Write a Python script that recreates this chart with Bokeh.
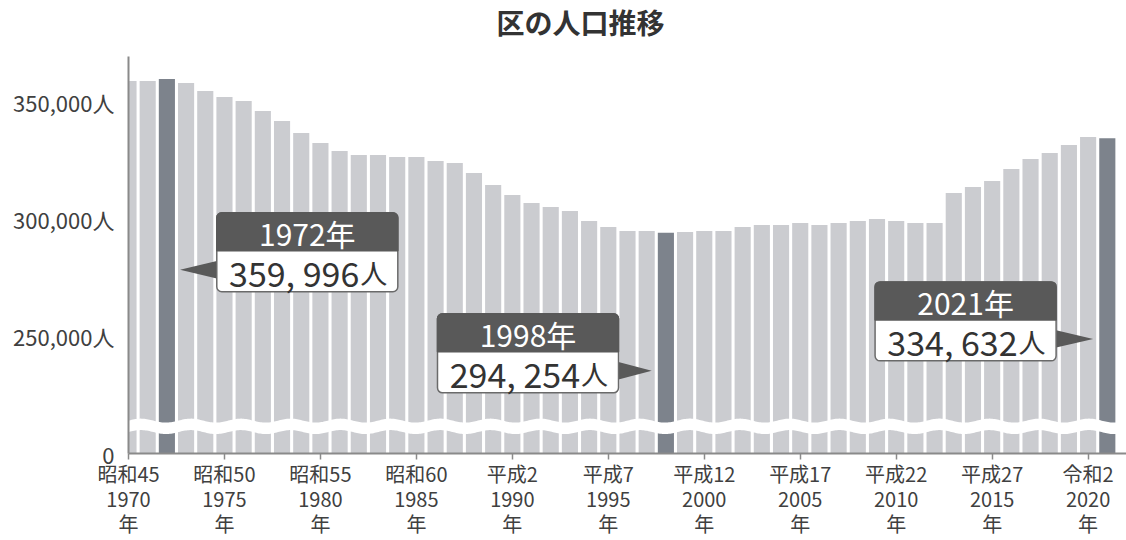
import numpy as np
from bokeh.plotting import figure
from bokeh.models import Range1d, FixedTicker, BoxAnnotation, Label
from bokeh.embed import file_html
from bokeh.resources import INLINE

# ---------------- data ----------------
years = list(range(1970, 2022))
population = [359150, 359150, 359996, 358290, 354870, 352300, 350600, 346330, 342060, 336940,
              332670, 329250, 327540, 327540, 326690, 326690, 324980, 324130, 319860, 314730,
              310460, 307050, 305340, 303630, 299360, 296800, 295090, 295090, 294254, 294600,
              295090, 295090, 296800, 297650, 297650, 298500, 297650, 298500, 299360, 300210,
              299360, 298500, 298500, 311320, 313880, 316440, 321560, 325830, 328400, 331810,
              335230, 334632]
highlight_years = [1972, 1998, 2021]

tick_years = [1970, 1975, 1980, 1985, 1990, 1995, 2000, 2005, 2010, 2015, 2020]
era_labels = ["昭和45", "昭和50", "昭和55", "昭和60", "平成2", "平成7",
              "平成12", "平成17", "平成22", "平成27", "令和2"]

y_ticks = [200000, 250000, 300000, 350000]
y_tick_labels = ["0", "250,000人", "300,000人", "350,000人"]

title_text = "区の人口推移"

# ---------------- style ----------------
FONT = "Noto Sans CJK JP"
LIGHT = "#cbccd0"
DARK = "#7d838c"
AXIS = "#8a8a8a"
TXT = "#404040"
HEAD = "#595959"

Y0, Y1 = 200000, 393500
X0, X1 = 1970, 2022.0
YPX = 427.0          # data units per pixel (vertical)
XPX = 1 / 19.19      # years per pixel (horizontal)

p = figure(width=1126, height=540, output_backend="svg", toolbar_location=None,
           x_range=Range1d(X0, X1), y_range=Range1d(Y0, Y1),
           min_border_left=128, min_border_right=0, min_border_top=0, min_border_bottom=86)
p.outline_line_color = None
p.xgrid.visible = False
p.ygrid.visible = False
p.background_fill_color = "white"
p.border_fill_color = "white"

colors = [DARK if y in highlight_years else LIGHT for y in years]
p.vbar(x=years, top=population, bottom=Y0, width=0.84, fill_color=colors, line_color=None)

# axis-break wave band
BREAK_C, BREAK_H, BREAK_A, BREAK_P = 211600, 2450, 850, 2.6
wx = np.linspace(X0 - 0.5, X1 + 0.5, 800)
wave = BREAK_A * np.sin(2 * np.pi * (wx - X0) / BREAK_P)
p.patch(np.concatenate([wx, wx[::-1]]),
        np.concatenate([BREAK_C + BREAK_H + wave, (BREAK_C - BREAK_H + wave)[::-1]]),
        fill_color="white", line_color=None)

# axes
xa = p.xaxis[0]
xa.ticker = FixedTicker(ticks=tick_years)
xa.major_label_overrides = {y: f"{e}\n{y}\n年" for y, e in zip(tick_years, era_labels)}
xa.axis_line_color = AXIS
xa.axis_line_width = 2
xa.major_tick_line_color = AXIS
xa.major_tick_line_width = 1.5
xa.major_tick_out = 6
xa.major_tick_in = 0
xa.minor_tick_line_color = None
xa.major_label_text_font = FONT
xa.major_label_text_font_size = "20px"
xa.major_label_text_color = TXT
xa.major_label_text_line_height = 0.87
xa.major_label_standoff = -1

ya = p.yaxis[0]
ya.ticker = FixedTicker(ticks=y_ticks)
ya.major_label_overrides = {t: l for t, l in zip(y_ticks, y_tick_labels)}
ya.bounds = (Y0, 369500)
ya.axis_line_color = AXIS
ya.axis_line_width = 2
ya.major_tick_line_color = None
ya.minor_tick_line_color = None
ya.major_tick_out = 0
ya.major_tick_in = 0
ya.major_label_text_font = FONT
ya.major_label_text_font_size = "22px"
ya.major_label_text_color = TXT
ya.major_label_standoff = 14

# title
p.add_layout(Label(x=1993.55, y=384200, text=title_text, text_align="center",
                   text_baseline="middle", text_font=FONT, text_font_size="28px",
                   text_font_style="bold", text_color="#333333"))

# callouts
callouts = [
    dict(year=1972, left=1974.6, top=302800, side="left"),
    dict(year=1998, left=1986.1, top=259650, side="right"),
    dict(year=2021, left=2008.9, top=273300, side="right"),
]
BOX_W = 181 * XPX
HEAD_H = 38 * YPX
BODY_H = 41 * YPX
if "border_radius" in BoxAnnotation.properties():
    radius_kw_body = dict(border_radius=5)
    radius_kw_head = dict(border_radius=(5, 5, 0, 0))
else:
    radius_kw_body = {}
    radius_kw_head = {}

labels = []
for c in callouts:
    yr = c["year"]
    val = population[years.index(yr)]
    left, top = c["left"], c["top"]
    right = left + BOX_W
    cx = left + BOX_W / 2
    # arrow
    if c["side"] == "left":
        bx, tx = left + 1 * XPX, yr + 0.425 + 5 * XPX
    else:
        bx, tx = right - 1 * XPX, yr - 0.425 - 6 * XPX
    p.patch([bx, tx, bx], [top - 48 * YPX, top - 57 * YPX, top - 66 * YPX],
            fill_color=HEAD, line_color=None)
    p.add_layout(BoxAnnotation(left=left, right=right, top=top, bottom=top - HEAD_H - BODY_H,
                               fill_color="white", fill_alpha=1, line_color="#6a6a6a",
                               line_width=1.5, line_alpha=1, level="annotation", **radius_kw_body))
    p.add_layout(BoxAnnotation(left=left, right=right, top=top, bottom=top - HEAD_H,
                               fill_color=HEAD, fill_alpha=1, line_color=HEAD, line_width=1.5,
                               line_alpha=1, level="annotation", **radius_kw_head))
    labels.append(Label(x=cx, y=top - 20 * YPX, text=f"{yr}年", text_align="center",
                        text_baseline="middle", text_font=FONT, text_font_size="30px",
                        text_color="white"))
    ax = cx + 52 * XPX
    labels.append(Label(x=ax, y=top - 59.5 * YPX, text=f"{val:,}".replace(",", ", "),
                        text_align="right", text_baseline="middle", text_font=FONT,
                        text_font_size="34px", text_color="#333333"))
    labels.append(Label(x=ax + 1 * XPX, y=top - 59.5 * YPX, text="人", text_align="left",
                        text_baseline="middle", text_font=FONT, text_font_size="27px",
                        text_color="#333333"))
for lb in labels:
    p.add_layout(lb)

open("out.html", "w", encoding="utf-8").write(file_html(p, INLINE))
